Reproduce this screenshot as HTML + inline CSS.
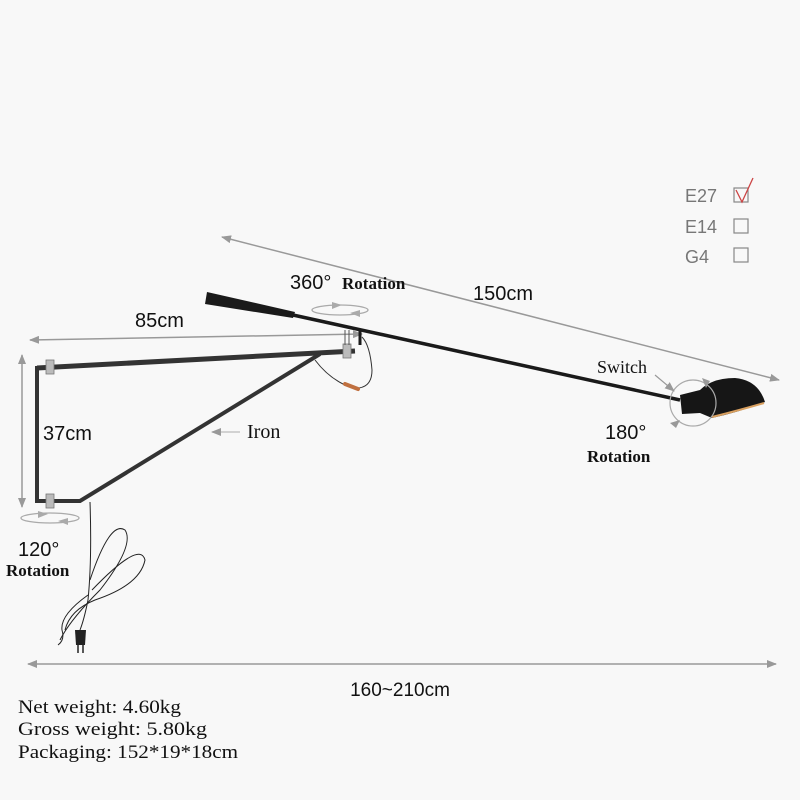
<!DOCTYPE html>
<html><head><style>
html,body{margin:0;padding:0;background:#f8f8f8;}
svg{display:block}
.s{font-family:"Liberation Sans",sans-serif;fill:#111}
.r{font-family:"Liberation Serif",serif;fill:#111}
</style></head><body>
<svg width="800" height="800" viewBox="0 0 800 800" xmlns="http://www.w3.org/2000/svg">
<defs>
<marker id="a" markerWidth="10" markerHeight="8" refX="9" refY="4" orient="auto" markerUnits="userSpaceOnUse"><path d="M0,0 L10,4 L0,8 Z" fill="#999"/></marker>
<marker id="b" markerWidth="10" markerHeight="8" refX="1" refY="4" orient="auto" markerUnits="userSpaceOnUse"><path d="M10,0 L0,4 L10,8 Z" fill="#999"/></marker>
</defs>
<rect width="800" height="800" fill="#f8f8f8"/>
<g font-family="Liberation Sans,sans-serif" font-size="18" fill="#777">
<text x="685" y="202">E27</text><text x="685" y="233">E14</text><text x="685" y="263">G4</text>
</g>
<g fill="none" stroke="#888" stroke-width="1.2">
<rect x="734" y="188" width="14" height="14"/><rect x="734" y="219" width="14" height="14"/><rect x="734" y="248" width="14" height="14"/>
</g>
<path d="M736,190 L742,202 L753,178" fill="none" stroke="#c44" stroke-width="1.3"/>
<line x1="222" y1="237" x2="779" y2="380" stroke="#999" stroke-width="1.5" marker-start="url(#b)" marker-end="url(#a)"/>
<text class="s" x="473" y="300" font-size="20">150cm</text>
<line x1="30" y1="340" x2="362" y2="334" stroke="#999" stroke-width="1.5" marker-start="url(#b)" marker-end="url(#a)"/>
<text class="s" x="135" y="327" font-size="20">85cm</text>
<line x1="22" y1="355" x2="22" y2="507" stroke="#999" stroke-width="1.5" marker-start="url(#b)" marker-end="url(#a)"/>
<text class="s" x="43" y="440" font-size="20">37cm</text>
<line x1="28" y1="664" x2="776" y2="664" stroke="#999" stroke-width="1.5" marker-start="url(#b)" marker-end="url(#a)"/>
<text class="s" x="400" y="696" font-size="19" text-anchor="middle">160~210cm</text>
<g stroke="#333" fill="none" stroke-linejoin="miter">
<path d="M37,368 L355,351" stroke-width="5"/>
<path d="M37,366 L37,501 L80,501 L320,354" stroke-width="4"/>
</g>
<g fill="#bbb" stroke="#777" stroke-width="0.8">
<rect x="46" y="360" width="8" height="14"/><rect x="46" y="494" width="8" height="14"/><rect x="343" y="344" width="8" height="14"/>
</g>
<line x1="345" y1="330" x2="345" y2="345" stroke="#555"/><line x1="349" y1="330" x2="349" y2="345" stroke="#555"/>
<path d="M315,360 Q330,380 352,388 Q372,390 372,370 Q370,345 362,337" fill="none" stroke="#333" stroke-width="1"/>
<path d="M345,384 L358,389" stroke="#c07040" stroke-width="4" stroke-linecap="round"/>
<g fill="none" stroke="#222" stroke-width="1">
<path d="M90,502 Q92,560 88,600 Q84,620 80,630"/>
<path d="M90,580 Q110,520 125,530 Q135,545 100,590 Q70,620 60,640"/>
<path d="M92,590 Q140,540 145,560 Q140,585 95,600 Q70,610 65,630"/>
<path d="M88,595 Q60,615 62,630 Q65,640 58,645"/>
</g>
<path d="M75,630 L86,630 L85,645 L76,645 Z" fill="#222"/>
<line x1="78" y1="645" x2="78" y2="653" stroke="#222" stroke-width="1.5"/><line x1="83" y1="645" x2="83" y2="653" stroke="#222" stroke-width="1.5"/>
<path d="M207,292 L295,312 L293,318 L205,304 Z" fill="#1a1a1a"/>
<line x1="293" y1="315" x2="680" y2="400" stroke="#1a1a1a" stroke-width="3.5"/>
<line x1="360" y1="330" x2="360" y2="345" stroke="#1a1a1a" stroke-width="3"/>
<path d="M680,395 L700,390 Q712,378 735,378 Q758,380 765,402 Q740,412 712,418 L700,413 L682,414 Z" fill="#161616"/>
<path d="M712,417 Q740,410 764,403" stroke="#d9a060" stroke-width="2" fill="none"/>
<circle cx="693" cy="403" r="23" fill="none" stroke="#aaa" stroke-width="1.2"/>
<path d="M702,378 L706,388 L710,381 Z" fill="#999"/><path d="M670,423 L680,420 L676,428 Z" fill="#999"/>
<line x1="655" y1="375" x2="674" y2="391" stroke="#999" stroke-width="1.2" marker-end="url(#a)"/>
<text class="r" x="597" y="373" font-size="18">Switch</text>
<text class="s" x="605" y="439" font-size="20">180°</text>
<text class="r" x="587" y="462" font-size="17" font-weight="bold">Rotation</text>
<text class="s" x="290" y="289" font-size="20">360°</text>
<text class="r" x="342" y="289" font-size="17" font-weight="bold">Rotation</text>
<ellipse cx="340" cy="310" rx="28" ry="5" fill="none" stroke="#aaa" stroke-width="1.3"/>
<path d="M332,302 L342,305 L332,309 Z" fill="#aaa"/><path d="M360,310 L350,313 L360,317 Z" fill="#aaa"/>
<ellipse cx="50" cy="518" rx="29" ry="5" fill="none" stroke="#aaa" stroke-width="1.3"/>
<path d="M38,511 L48,514 L38,518 Z" fill="#aaa"/><path d="M68,518 L58,521 L68,525 Z" fill="#aaa"/>
<text class="s" x="18" y="556" font-size="20">120°</text>
<text class="r" x="6" y="576" font-size="17" font-weight="bold">Rotation</text>
<line x1="240" y1="432" x2="212" y2="432" stroke="#bbb" stroke-width="1.2" marker-end="url(#a)"/>
<text class="r" x="247" y="438" font-size="20">Iron</text>
<g class="r" font-size="19">
<text x="18" y="713" textLength="163" lengthAdjust="spacingAndGlyphs">Net weight: 4.60kg</text>
<text x="18" y="735" textLength="189" lengthAdjust="spacingAndGlyphs">Gross weight: 5.80kg</text>
<text x="18" y="758" textLength="220" lengthAdjust="spacingAndGlyphs">Packaging: 152*19*18cm</text>
</g>
</svg>
</body></html>
